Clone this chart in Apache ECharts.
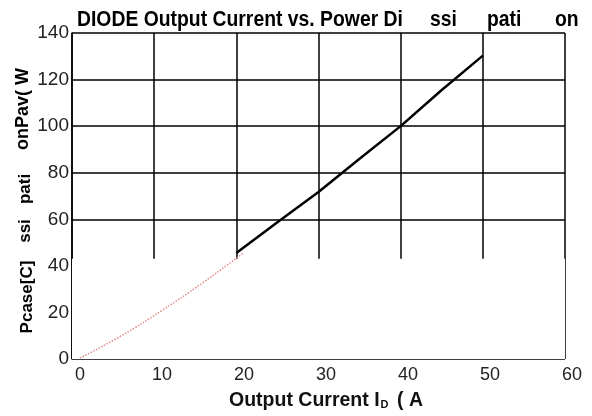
<!DOCTYPE html>
<html>
<head>
<meta charset="utf-8">
<script src="https://cdn.jsdelivr.net/npm/echarts@6/dist/echarts.min.js"></script>
<style>html,body{margin:0;padding:0;background:#fff}#c{width:592px;height:416px}</style>
</head>
<body>
<div id="c"></div>
<script>
// Data
const titleParts = ['DIODE Output Current vs. Power Di', 'ssi', 'pati', 'on'];
const xTicks = [0, 10, 20, 30, 40, 50, 60];
const yTicks = [0, 20, 40, 60, 80, 100, 120, 140];
const lowCurrent = [0, 5, 10, 15, 20];
const lowPower = [0, 9.5, 20.5, 32.5, 45.4];
const highCurrent = [20, 25, 30, 35, 40, 45, 50];
const highPower = [45.5, 58.7, 71.7, 86, 100, 115.5, 130.3];
const yNameParts = ['onPav( W', 'pati', 'ssi', 'Pcase[C]'];
const noteText = 'lic e efi a s';

const chart = echarts.init(document.getElementById('c'), null, {renderer: 'canvas'});
const narrow = '"Liberation Sans Narrow", "Arial Narrow", "Liberation Sans", Arial, sans-serif';
const sans = '"Liberation Sans", Arial, sans-serif';

const option = {
  backgroundColor: '#fff',
  animation: false,
  grid: [
    {left: 72, right: 27, top: 33, bottom: 57},
    {left: 80, right: 20, top: 33, bottom: 57}
  ],
  xAxis: [
    {gridIndex: 0, type: 'value', min: xTicks[0], max: xTicks[xTicks.length - 1], interval: 10,
     axisLine: {show: false}, axisTick: {show: false}, axisLabel: {show: false},
     splitLine: {show: true, lineStyle: {color: '#000', width: 1.5}}},
    {gridIndex: 1, type: 'value', min: xTicks[0], max: xTicks[xTicks.length - 1], interval: 10,
     axisLine: {show: false}, axisTick: {show: false}, splitLine: {show: false},
     axisLabel: {show: true, color: '#222', fontSize: 18, fontFamily: sans, margin: 8},
     name: 'Output Current I{sub|D} ( A', nameLocation: 'middle', nameGap: 33,
     nameTextStyle: {color: '#111', fontSize: 19.5, fontWeight: 'bold', fontFamily: sans,
       rich: {sub: {fontSize: 11, fontWeight: 'bold', color: '#111', fontFamily: sans, padding: [7, 3, 0, 1]}}}}
  ],
  yAxis: [
    {gridIndex: 0, type: 'value', min: yTicks[0], max: yTicks[yTicks.length - 1], interval: 20,
     axisLine: {show: true, lineStyle: {color: '#000', width: 1.5}}, axisTick: {show: false},
     axisLabel: {color: '#222', fontSize: 19, fontFamily: sans, margin: 3},
     splitLine: {show: true, lineStyle: {color: '#000', width: 1.5}}},
    {gridIndex: 1, type: 'value', min: yTicks[0], max: yTicks[yTicks.length - 1], show: false}
  ],
  series: [
    {type: 'line', xAxisIndex: 0, yAxisIndex: 0, data: [], z: 1, silent: true, clip: false,
     markArea: {silent: true, itemStyle: {color: '#fff', opacity: 1},
       data: [[{xAxis: -0.3, yAxis: -5}, {xAxis: 60.3, yAxis: 43}]]}},
    {type: 'line', xAxisIndex: 0, yAxisIndex: 0, z: 5, showSymbol: false, smooth: false,
     lineStyle: {color: '#000', width: 2.5},
     data: highCurrent.map((x, i) => [x, highPower[i]])},
    {type: 'line', xAxisIndex: 1, yAxisIndex: 1, z: 5, showSymbol: false, smooth: true,
     lineStyle: {color: '#e08a8a', width: 1.5, type: 'dotted'},
     data: lowCurrent.map((x, i) => [x, lowPower[i]])}
  ],
  graphic: [
    {type: 'text', x: 77, y: 20, scaleX: 0.88, style: {text: titleParts[0], font: 'bold 22px ' + narrow, fill: '#000', textVerticalAlign: 'middle'}},
    {type: 'text', x: 430, y: 20, scaleX: 0.88, style: {text: titleParts[1], font: 'bold 22px ' + narrow, fill: '#000', textVerticalAlign: 'middle'}},
    {type: 'text', x: 487, y: 20, scaleX: 0.88, style: {text: titleParts[2], font: 'bold 22px ' + narrow, fill: '#000', textVerticalAlign: 'middle'}},
    {type: 'text', x: 555, y: 20, scaleX: 0.88, style: {text: titleParts[3], font: 'bold 22px ' + narrow, fill: '#000', textVerticalAlign: 'middle'}},
    {type: 'text', x: 23, y: 109, rotation: Math.PI / 2, style: {text: yNameParts[0], font: 'bold 18px ' + narrow, fill: '#000', textAlign: 'center', textVerticalAlign: 'middle'}},
    {type: 'text', x: 25, y: 189, rotation: Math.PI / 2, style: {text: yNameParts[1], font: 'bold 17px ' + narrow, fill: '#000', textAlign: 'center', textVerticalAlign: 'middle'}},
    {type: 'text', x: 25, y: 231, rotation: Math.PI / 2, style: {text: yNameParts[2], font: 'bold 17px ' + narrow, fill: '#000', textAlign: 'center', textVerticalAlign: 'middle'}},
    {type: 'text', x: 27, y: 297, rotation: Math.PI / 2, style: {text: yNameParts[3], font: 'bold 17px ' + narrow, fill: '#000', textAlign: 'center', textVerticalAlign: 'middle'}},
    {type: 'text', x: 466, y: 284, style: {text: noteText, font: '11px ' + sans, fill: '#777', textVerticalAlign: 'middle'}}
  ]
};
chart.setOption(option);
</script>
</body>
</html>
